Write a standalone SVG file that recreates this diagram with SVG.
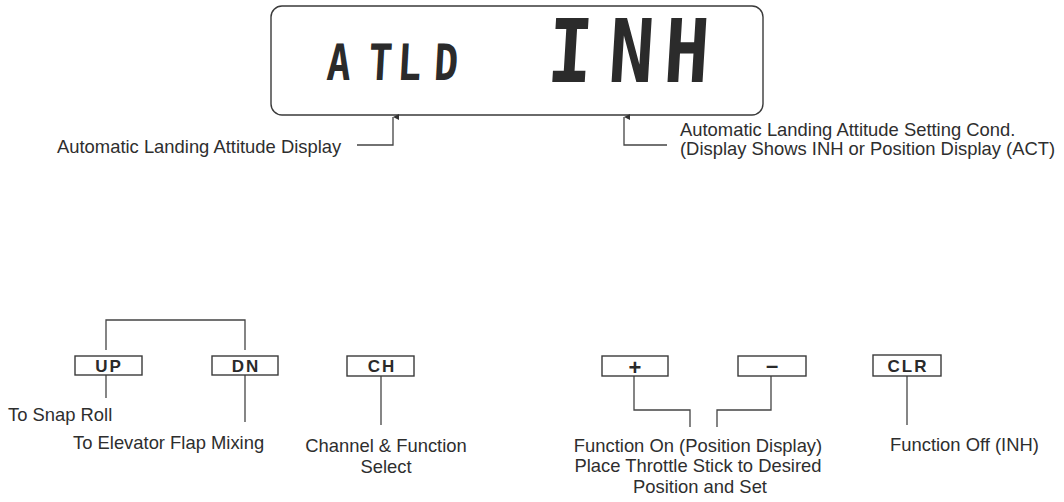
<svg xmlns="http://www.w3.org/2000/svg" width="1064" height="502" viewBox="0 0 1064 502">
<style>
.lbl{font-family:"Liberation Sans",Arial,sans-serif;font-size:18.4px;fill:#2e2e2e}
.key{font-family:"Liberation Sans",Arial,sans-serif;font-size:17px;font-weight:bold;fill:#2a2a2a;letter-spacing:2px;text-anchor:middle}
.sym{font-family:"Liberation Sans",Arial,sans-serif;font-size:22px;font-weight:bold;fill:#2a2a2a;text-anchor:middle}
.box{fill:#fff;stroke:#3a3a3a;stroke-width:1.4}
.ln{fill:none;stroke:#444;stroke-width:1.3}
.lcd{font-family:"DejaVu Sans Mono",monospace;font-weight:bold;fill:#2b2b2b}
</style>
<defs>
<marker id="ah" viewBox="0 0 6 8" refX="3" refY="0" markerWidth="6" markerHeight="8" orient="auto-start-reverse" markerUnits="userSpaceOnUse">
<path d="M0,6 L3,0 L6,6 Z" fill="#333"/>
</marker>
</defs>
<rect width="1064" height="502" fill="#fff"/>
<g id="display">
<rect x="271" y="6" width="492" height="109" rx="11" class="box"/>
<g transform="translate(326 80) scale(0.8 1) skewX(-4)"><text class="lcd" font-size="50" x="0 52 88 134" y="0">ATLD</text></g>
<g transform="translate(546 82) scale(0.85 1) skewX(-4)"><text class="lcd" font-size="88" x="0 72 137" y="0">INH</text></g>
</g>
<g id="connectors">
<path class="ln" d="M357,145 H393 V117" marker-end="url(#ah)"/>
<path class="ln" d="M667,145 H624 V117" marker-end="url(#ah)"/>
<path class="ln" d="M106,350 V320 H245 V350"/>
<path class="ln" d="M106,375 V398"/>
<path class="ln" d="M245,375 V422"/>
<path class="ln" d="M381,376 V425"/>
<path class="ln" d="M634,376 V410 H690 V427"/>
<path class="ln" d="M771,376 V410 H717 V427"/>
<path class="ln" d="M907,376 V425"/>
</g>
<g id="label-atld"><text class="lbl" x="57" y="153">Automatic Landing Attitude Display</text></g>
<g id="label-inh"><text class="lbl" x="680" y="136">Automatic Landing Attitude Setting Cond.</text><text class="lbl" x="680" y="155">(Display Shows INH or Position Display (ACT)</text></g>
<g id="key-up"><rect x="75" y="356" width="67" height="19" class="box"/><text class="key" x="109" y="372">UP</text></g>
<g id="key-dn"><rect x="212" y="356" width="66" height="19" class="box"/><text class="key" x="246" y="372">DN</text></g>
<g id="key-ch"><rect x="347" y="356" width="67" height="20" class="box"/><text class="key" x="382" y="372">CH</text></g>
<g id="key-plus"><rect x="602" y="356" width="66" height="20" class="box"/><text class="sym" x="635" y="375">+</text></g>
<g id="key-minus"><rect x="738" y="356" width="68" height="20" class="box"/><text class="sym" x="772" y="373">–</text></g>
<g id="key-clr"><rect x="873" y="355" width="68" height="21" class="box"/><text class="key" x="908" y="372">CLR</text></g>
<g id="label-up"><text class="lbl" x="8" y="421">To Snap Roll</text></g>
<g id="label-dn"><text class="lbl" x="73" y="449">To Elevator Flap Mixing</text></g>
<g id="label-ch"><text class="lbl" x="386" y="452" text-anchor="middle">Channel &amp; Function</text><text class="lbl" x="386" y="473" text-anchor="middle">Select</text></g>
<g id="label-plusminus"><text class="lbl" x="698" y="452" text-anchor="middle">Function On (Position Display)</text><text class="lbl" x="698" y="472" text-anchor="middle">Place Throttle Stick to Desired</text><text class="lbl" x="700" y="493" text-anchor="middle">Position and Set</text></g>
<g id="label-clr"><text class="lbl" x="890" y="451">Function Off (INH)</text></g>
</svg>
